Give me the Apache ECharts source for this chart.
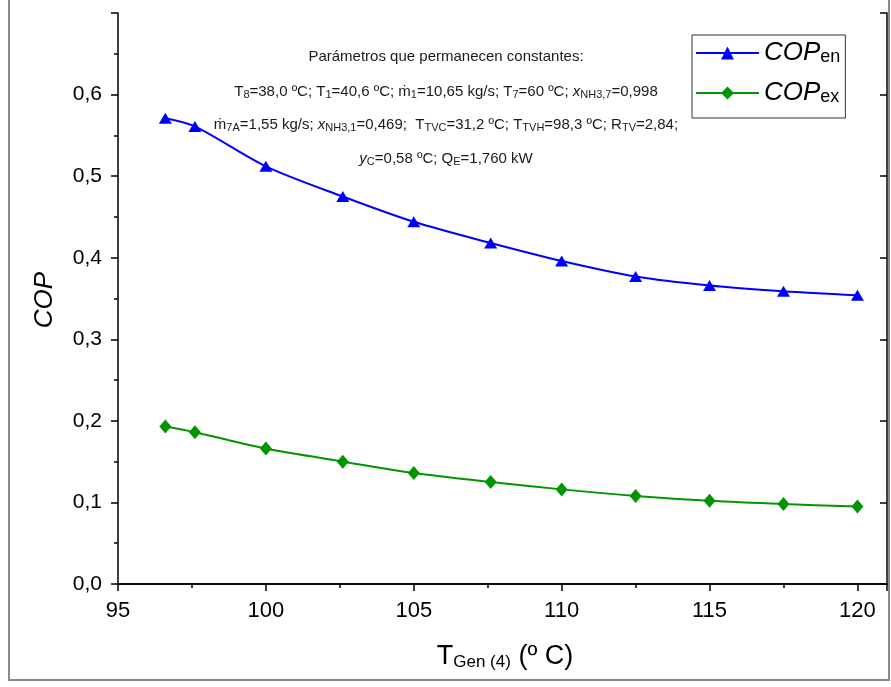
<!DOCTYPE html>
<html>
<head>
<meta charset="utf-8">
<script src="https://cdn.jsdelivr.net/npm/echarts@6/dist/echarts.min.js"></script>
<style>
  html, body { margin: 0; padding: 0; background: #ffffff; }
  #chart { width: 891px; height: 687px; }
</style>
</head>
<body>
<div id="chart"></div>
<script>
// Generator temperature (ºC) and the two performance coefficients
const temperatures = [96.6, 97.6, 100, 102.6, 105, 107.6, 110, 112.5, 115, 117.5, 120];
const copEnergy = [0.571, 0.561, 0.512, 0.475, 0.444, 0.418, 0.396, 0.377, 0.366, 0.359, 0.354];
const copExergy = [0.193, 0.186, 0.166, 0.150, 0.136, 0.125, 0.116, 0.108, 0.102, 0.098, 0.095];

const seriesNames = ['COPen', 'COPex'];
const seriesSubs = ['en', 'ex'];

// Constant operating parameters shown in the note
const noteLines = [
  'Parámetros que permanecen constantes:',
  'T{s|8}=38,0 ºC; T{s|1}=40,6 ºC; ṁ{s|1}=10,65 kg/s; T{s|7}=60 ºC; {i|x}{s|NH3,7}=0,998',
  'ṁ{s|7A}=1,55 kg/s; {i|x}{s|NH3,1}=0,469;  T{s|TVC}=31,2 ºC; T{s|TVH}=98,3 ºC; R{s|TV}=2,84;',
  '{i|y}{s|C}=0,58 ºC; Q{s|E}=1,760 kW'
];
const noteY = [57, 92, 125, 159];

const SANS = "'Liberation Sans', Arial, 'DejaVu Sans', sans-serif";

const pairs = (ys) => temperatures.map((t, i) => [t, ys[i]]);
const comma = (v, d) => v.toFixed(d).replace('.', ',');

const chart = echarts.init(document.getElementById('chart'), null, { renderer: 'canvas' });

const axisLine = { show: true, lineStyle: { color: '#000', width: 1.5 } };
const tickStyle = { color: '#000', width: 1.5 };

const noteText = noteLines.map((line, k) => ({
  type: 'text',
  x: 446,
  y: noteY[k],
  silent: true,
  style: {
    text: line,
    fill: '#1a1a1a',
    fontSize: 15,
    fontFamily: SANS,
    align: 'center',
    verticalAlign: 'middle',
    rich: {
      s: { fontSize: 11, fontFamily: SANS, lineHeight: 11, verticalAlign: 'bottom', fill: '#1a1a1a' },
      i: { fontSize: 15, fontFamily: SANS, fontStyle: 'italic', lineHeight: 17, fill: '#1a1a1a' }
    }
  }
}));

chart.setOption({
  animation: false,
  backgroundColor: '#ffffff',
  grid: { left: 118, right: 4, top: 13, bottom: 103, containLabel: false },
  legend: {
    left: 692,
    top: 35,
    orient: 'vertical',
    data: seriesNames,
    backgroundColor: '#fff',
    borderColor: '#333',
    borderWidth: 1,
    padding: [5, 5, 12, 3],
    itemWidth: 63,
    itemHeight: 16,
    itemGap: 14,
    textStyle: {
      color: '#000',
      rich: {
        a: { fontSize: 26, fontStyle: 'italic', fontFamily: SANS, lineHeight: 26 },
        b: { fontSize: 18, fontFamily: SANS, lineHeight: 14, verticalAlign: 'bottom' }
      }
    },
    formatter: (name) => '{a|COP}{b|' + seriesSubs[seriesNames.indexOf(name)] + '}'
  },
  xAxis: [{
    type: 'value',
    min: 95,
    max: 121,
    interval: 5,
    axisLine: axisLine,
    axisTick: { show: true, inside: false, length: 7, lineStyle: tickStyle },
    minorTick: { show: true, splitNumber: 2, length: 4, lineStyle: tickStyle },
    splitLine: { show: false },
    axisLabel: {
      show: true, color: '#000', fontSize: 22, fontFamily: SANS, margin: 16,
      showMaxLabel: false,
      formatter: (v) => String(v)
    }
  }, {
    type: 'value',
    position: 'top',
    min: 95,
    max: 121,
    interval: 5,
    axisLine: axisLine,
    axisTick: { show: true, inside: true, length: 7, lineStyle: tickStyle },
    minorTick: { show: false },
    splitLine: { show: false },
    axisLabel: { show: false }
  }],
  yAxis: [{
    type: 'value',
    min: 0,
    max: 0.7,
    interval: 0.1,
    axisLine: axisLine,
    axisTick: { show: true, inside: false, length: 7, lineStyle: tickStyle },
    minorTick: { show: true, splitNumber: 2, length: 4, lineStyle: tickStyle },
    splitLine: { show: false },
    axisLabel: {
      show: true, color: '#000', fontSize: 21, fontFamily: SANS, margin: 16,
      showMaxLabel: false,
      formatter: (v) => comma(v, 1)
    }
  }, {
    type: 'value',
    position: 'right',
    min: 0,
    max: 0.7,
    interval: 0.1,
    axisLine: axisLine,
    axisTick: { show: true, inside: true, length: 7, lineStyle: tickStyle },
    minorTick: { show: false },
    splitLine: { show: false },
    axisLabel: { show: false }
  }],
  series: [{
    name: seriesNames[0],
    type: 'line',
    data: pairs(copEnergy),
    smooth: 0.3,
    symbol: 'triangle',
    symbolSize: [13, 11],
    lineStyle: { color: '#0000ff', width: 2 },
    itemStyle: { color: '#0000ff' },
    z: 3
  }, {
    name: seriesNames[1],
    type: 'line',
    data: pairs(copExergy),
    smooth: 0.3,
    symbol: 'diamond',
    symbolSize: [12, 14],
    lineStyle: { color: '#009600', width: 2 },
    itemStyle: { color: '#009600' },
    z: 3
  }],
  graphic: [
    {
      type: 'rect',
      silent: true,
      shape: { x: 9, y: -5, width: 880, height: 685 },
      style: { fill: 'none', stroke: '#8a8a8a', lineWidth: 2 }
    },
    {
      type: 'text',
      x: 45,
      y: 300,
      rotation: Math.PI / 2,
      silent: true,
      style: {
        text: 'COP',
        fill: '#000',
        fontSize: 26,
        fontStyle: 'italic',
        fontFamily: SANS,
        align: 'center',
        verticalAlign: 'middle'
      }
    },
    {
      type: 'text',
      x: 505,
      y: 657,
      silent: true,
      style: {
        text: 'T{s|Gen (4)} (º C)',
        fill: '#000',
        fontSize: 27,
        fontFamily: SANS,
        align: 'center',
        verticalAlign: 'middle',
        rich: {
          s: { fontSize: 17, fontFamily: SANS, lineHeight: 14, verticalAlign: 'bottom', fill: '#000' }
        }
      }
    }
  ].concat(noteText)
});
</script>
</body>
</html>
